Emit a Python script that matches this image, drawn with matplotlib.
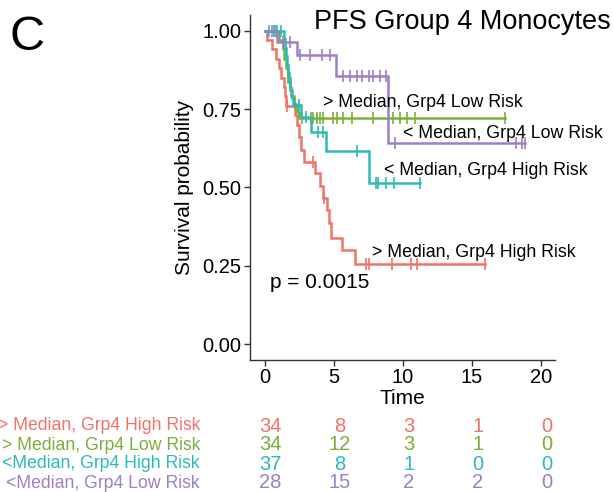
import numpy as np
import matplotlib
matplotlib.use("Agg")
from matplotlib import pyplot as plt
from matplotlib import transforms

plt.rcParams['font.family'] = ['Liberation Sans', 'DejaVu Sans']

# Kaplan-Meier step data: event times and survival after each step
red_t = [0, 0.15, 0.5, 0.8, 1.0, 1.2, 1.35, 1.45, 1.55, 2.2, 2.35, 2.5, 2.6, 2.85, 3.6, 4.0, 4.2, 4.5, 4.65, 4.8, 5.6, 6.5]
red_s = [1.0, 0.97, 0.94, 0.91, 0.88, 0.85, 0.82, 0.79, 0.76, 0.73, 0.70, 0.66, 0.62, 0.58, 0.545, 0.505, 0.465, 0.428, 0.386, 0.338, 0.30, 0.255]
red_end = 15.9
red_cens = [1.6, 3.5, 4.3, 7.3, 7.5, 9.2, 10.6, 11.0, 15.9]

green_t = [0, 1.0, 1.3, 1.4, 1.5, 1.65, 1.8, 1.9, 2.1, 2.35, 2.5]
green_s = [1.0, 0.97, 0.94, 0.91, 0.88, 0.85, 0.82, 0.79, 0.765, 0.74, 0.72]
green_end = 17.4
green_cens = [0.7, 1.7, 2.2, 2.66, 3.31, 3.5, 3.74, 3.99, 4.22, 4.95, 5.2, 5.67, 6.28, 7.85,
              9.3, 9.78, 10.27, 10.87, 17.4]

teal_t = [0, 1.35, 1.45, 1.55, 1.6, 1.65, 1.75, 1.85, 1.95, 2.05, 2.6, 3.35, 4.4, 7.55]
teal_s = [1.0, 0.973, 0.946, 0.919, 0.892, 0.865, 0.838, 0.81, 0.785, 0.764, 0.726, 0.678, 0.617, 0.515]
teal_end = 11.25
teal_cens = [0.3, 0.65, 0.9, 1.2, 2.5, 3.0, 3.86, 4.2, 6.7, 8.04, 8.2, 8.8, 9.35, 11.25]

purple_t = [0, 0.9, 2.35, 5.15, 8.94]
purple_s = [1.0, 0.964, 0.923, 0.854, 0.641]
purple_end = 18.8
purple_cens = [0.5, 1.3, 1.8, 2.54, 3.26, 4.1, 4.7, 5.67, 6.16, 6.64, 7.0, 7.5, 7.85, 8.33, 8.8,
               9.4, 18.2, 18.6, 18.8]

groups = ['> Median, Grp4 High Risk', '> Median, Grp4 Low Risk',
          '<Median, Grp4 High Risk', '<Median, Grp4 Low Risk']
colors = ['#F0726A', '#7CAE3A', '#2CBAB6', '#9D7FC6']

# in-plot curve labels: (text, x, y)
curve_labels = [('> Median, Grp4 Low Risk', 4.2, 0.772),
                ('< Median, Grp4 Low Risk', 10.0, 0.672),
                ('< Median, Grp4 High Risk', 8.65, 0.554),
                ('> Median, Grp4 High Risk', 7.75, 0.292)]

risk_times = [0, 5, 10, 15, 20]
risk_red = [34, 8, 3, 1, 0]
risk_green = [34, 12, 3, 1, 0]
risk_teal = [37, 8, 1, 0, 0]
risk_purple = [28, 15, 2, 2, 0]

curves = [(red_t, red_s, red_end, red_cens),
          (green_t, green_s, green_end, green_cens),
          (teal_t, teal_s, teal_end, teal_cens),
          (purple_t, purple_s, purple_end, purple_cens)]
risks = [risk_red, risk_green, risk_teal, risk_purple]

fig = plt.figure(figsize=(6.14, 4.92), dpi=100)
ax = fig.add_axes([250 / 614, 1 - 360 / 492, 305 / 614, 345 / 492])

for (t, s, end, cens), col in zip(curves, colors):
    tt = list(t) + [end]
    ss = list(s) + [s[-1]]
    ax.step(tt, ss, where='post', color=col, lw=1.8, solid_joinstyle='miter')
    idx = np.searchsorted(t, cens, side='right') - 1
    ax.plot(cens, np.array(s)[idx], ls='none', marker='|', ms=8, mew=1.2, color=col)

for txt, x, y in curve_labels:
    ax.text(x, y, txt, fontsize=12.8, ha='left', va='center')

ax.text(0.35, 0.195, 'p = 0.0015', fontsize=15, ha='left', va='center')

ax.set_xlim(-1.08, 21.0)
ax.set_ylim(-0.051, 1.05)
ax.set_xticks([0, 5, 10, 15, 20])
ax.set_yticks([0, 0.25, 0.5, 0.75, 1.0])
ax.set_yticklabels(['0.00', '0.25', '0.50', '0.75', '1.00'])
for side in ['top', 'right']:
    ax.spines[side].set_visible(False)
for side in ['left', 'bottom']:
    ax.spines[side].set_color('#333333')
    ax.spines[side].set_linewidth(1.0)
ax.tick_params(length=4, width=1.0, color='#333333', labelsize=14.5, pad=2)
ax.set_xlabel('Time', fontsize=15, labelpad=1)
ax.set_ylabel('Survival probability', fontsize=15, labelpad=6)

fig.text(611 / 614, 1 - 22 / 492, 'PFS Group 4 Monocytes', fontsize=19.5, ha='right', va='center')
fig.text(10 / 614, 1 - 37 / 492, 'C', fontsize=35, ha='left', va='center')

# risk table below the plot
tr = transforms.blended_transform_factory(ax.transData, fig.transFigure)
row_y = [426, 445, 464, 483]
for name, col, counts, py in zip(groups, colors, risks, row_y):
    yf = 1 - py / 492
    fig.text(200 / 614, yf, name, color=col, fontsize=12.7, ha='right', va='center')
    for tm, n in zip(risk_times, counts):
        ax.text(tm + 0.4, yf, str(n), color=col, fontsize=14.5, ha='center', va='center',
                transform=tr, clip_on=False)

fig.savefig('out.png', dpi=100)
